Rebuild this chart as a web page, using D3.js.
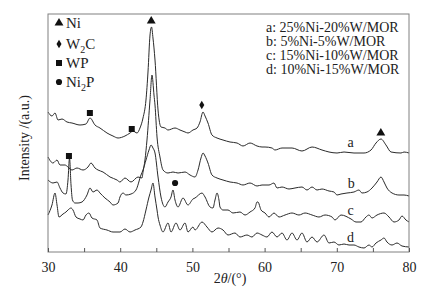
<!DOCTYPE html>
<html><head><meta charset="utf-8">
<script src="https://cdn.jsdelivr.net/npm/d3@7"></script>
<style>body{margin:0;background:#fff}svg{display:block}text{font-family:"Liberation Serif","Times New Roman",serif;fill:#222}</style>
</head><body>
<script>
// 2θ (degrees) and intensity (a.u.) for each sample
const thetaA=[30.0,30.55,30.97,31.39,31.94,32.63,33.32,34.43,35.26,35.82,36.51,37.20,38.17,39.0,39.70,40.66,41.36,41.77,42.33,42.74,43.16,43.57,43.85,44.13,44.34,44.54,44.82,45.24,45.65,46.20,46.62,47.59,48.28,48.98,49.39,50.08,50.64,51.05,51.47,51.75,52.16,52.71,53.41,54.24,55.21,56.18,57.01,57.98,58.95,59.64,60.06,61.02,61.44,62.41,63.80,65.18,66.57,67.95,68.92,70.03,71.0,72.38,73.77,74.74,75.43,76.12,76.81,77.51,78.89,79.31,80.0];
const intA=[140,136,139,132,133,130,129,127,128,134,127,124,119,116,114,116,119,121,119,124,134,152,180,217,225,214,192,142,125,124,122,124,122,120,119,122,124,130,140,136,129,117,114,112,110,109,106,109,106,105,105,104,102,104,104,101,105,102,100,99,100,99,99,102,109,113,107,100,99,100,99];
const thetaB=[30.0,30.69,31.25,31.66,32.35,32.77,33.32,34.02,34.85,35.54,35.96,36.51,36.93,37.62,38.59,39.56,39.97,40.66,41.50,42.47,43.02,43.16,43.43,43.71,44.13,44.40,44.68,44.82,45.10,45.51,45.93,46.62,47.31,48.01,48.98,49.67,50.36,50.78,51.19,51.47,51.75,52.16,52.71,53.41,54.24,55.21,56.18,57.01,57.98,58.95,59.64,60.61,61.30,61.72,62.41,63.38,64.21,65.18,65.87,66.57,67.26,67.95,68.92,69.61,70.03,70.58,71.41,72.38,73.07,73.49,74.18,74.88,75.57,76.12,76.54,76.95,77.65,78.61,79.31,80.0];
const intB=[95,89,92,87,87,85,82,84,82,85,89,84,82,80,75,72,70,74,70,75,74,80,92,112,152,177,157,147,115,95,82,79,80,79,80,77,75,82,94,99,96,89,77,74,72,70,69,67,69,66,67,67,69,64,65,63,64,65,62,65,62,63,61,60,57,58,59,60,62,59,60,64,70,75,70,64,59,57,57,56];
const thetaC=[30.0,30.69,31.25,31.66,32.08,32.49,32.77,32.98,33.19,33.39,33.74,34.16,34.71,35.40,35.82,36.23,36.79,37.20,37.89,38.59,39.0,39.70,39.97,40.39,40.80,41.50,42.19,42.88,43.16,43.57,43.99,44.27,44.54,44.82,45.24,45.65,46.20,46.62,47.04,47.31,47.59,48.01,48.70,49.39,50.08,50.36,51.33,51.75,52.44,52.85,53.13,53.41,53.68,53.82,54.24,54.93,55.62,56.59,57.29,57.98,58.67,58.95,59.09,59.36,59.50,60.06,60.61,61.30,62.0,62.83,63.80,64.76,65.60,66.57,67.53,68.37,69.34,69.75,70.58,71.97,72.66,73.35,74.04,74.46,74.88,75.57,76.54,77.23,77.92,78.61,79.03,79.58,80.0];
const intC=[72,69,70,64,59,58,72,94,67,52,49,49,50,57,64,60,62,59,54,50,47,49,55,59,57,58,62,77,82,92,102,107,104,99,75,55,45,50,55,62,52,45,54,47,53,54,59,55,45,44,52,59,52,45,42,42,39,40,37,40,44,50,50,45,42,39,35,39,35,37,39,37,39,37,35,37,35,32,37,33,30,30,35,37,34,37,39,35,30,32,36,32,30];
const thetaD=[30.0,30.55,30.97,31.25,31.52,32.08,32.49,32.77,33.19,33.46,33.88,34.43,34.85,35.26,35.68,36.09,36.79,37.20,38.17,39.0,39.97,40.66,41.36,42.05,42.88,43.16,43.57,43.99,44.27,44.54,44.82,45.10,45.24,45.51,45.93,46.62,47.04,47.73,48.28,48.98,49.39,50.08,50.36,51.33,52.02,52.71,53.55,54.24,54.93,55.90,56.59,57.56,58.25,58.95,59.64,60.33,61.02,61.72,62.41,63.10,63.80,64.49,65.18,65.87,66.57,67.26,68.23,68.92,69.61,70.30,71.0,71.69,72.38,73.07,73.77,74.46,74.88,75.43,76.12,76.54,76.95,77.65,78.34,79.03,80.0];
const intD=[37,47,59,47,35,38,40,42,44,42,35,33,32,37,39,34,32,24,22,20,20,23,20,22,25,30,42,55,62,69,55,42,35,27,20,29,20,29,22,29,20,25,22,30,25,20,24,22,17,19,15,17,15,19,17,15,20,15,19,12,19,12,19,10,15,10,17,9,10,7,8,7,7,5,4,7,5,9,12,14,10,7,9,6,5];

const curveLabels=["a","b","c","d"];
const labelTheta=[71.9,72.0,71.9,71.9];
const labelInt=[105,64,37,10];

const legendPhases=["Ni","W₂C","WP","Ni₂P"];
const legendShapes=["triangle","diamond","square","circle"];
const sampleLegend=["a: 25%Ni-20%W/MOR","b: 5%Ni-5%W/MOR","c: 15%Ni-10%W/MOR","d: 10%Ni-15%W/MOR"];

// peak markers: phase index, 2θ, intensity
const markerPhase=[0,1,2,2,0,2,3];
const markerTheta=[44.3,51.3,35.8,41.6,76.1,32.9,47.6];
const markerInt=[231,147,139,123,119,96,69];

const xTicks=[30,40,50,60,70,80];
const xMinor=[35,45,55,65,75];

const W=432,H=291;
const m={l:48,r:23,t:14,b:39};
const svg=d3.select("body").append("svg").attr("width",W).attr("height",H);
const x=d3.scaleLinear().domain([30,80]).range([m.l,W-m.r]);
const y=d3.scaleLinear().domain([0,238]).range([H-m.b,m.t]);

const series=[[thetaA,intA],[thetaB,intB],[thetaC,intC],[thetaD,intD]];
const line=d3.line().x(d=>x(d[0])).y(d=>y(d[1])).curve(d3.curveMonotoneX);
series.forEach(([t,v])=>{
  svg.append("path").datum(t.map((tt,i)=>[tt,v[i]]))
    .attr("d",line).attr("fill","none").attr("stroke","#2a2a2a").attr("stroke-width",1);
});

// frame
svg.append("rect").attr("x",m.l).attr("y",m.t).attr("width",W-m.r-m.l).attr("height",H-m.b-m.t)
  .attr("fill","none").attr("stroke","#808080").attr("stroke-width",1);

// x axis ticks inside
const ax=svg.append("g").attr("transform",`translate(0,${H-m.b})`)
  .call(d3.axisBottom(x).tickValues(xTicks).tickSizeInner(-4).tickSizeOuter(0).tickPadding(10));
ax.select(".domain").remove();
ax.selectAll("line").attr("stroke","#555");
ax.selectAll("text").attr("font-size",14).attr("font-family","Liberation Serif").attr("fill","#222");
const ax2=svg.append("g").attr("transform",`translate(0,${H-m.b})`)
  .call(d3.axisBottom(x).tickValues(xMinor).tickSizeInner(-4).tickSizeOuter(0).tickFormat(""));
ax2.select(".domain").remove();
ax2.selectAll("line").attr("stroke","#555");

// axis titles
const xt=svg.append("text").attr("x",230).attr("y",283).attr("text-anchor","middle").attr("font-size",14);
xt.append("tspan").text("2");
xt.append("tspan").attr("font-style","italic").text("θ");
xt.append("tspan").text("/(°)");
svg.append("text").attr("transform","translate(29,138) rotate(-90)").attr("text-anchor","middle")
  .attr("font-size",14).text("Intensity /(a.u.)");

// symbols
const symType={triangle:d3.symbolTriangle,diamond:d3.symbolDiamond,square:d3.symbolSquare,circle:d3.symbolCircle};
const symSize={triangle:34,diamond:22,square:36,circle:30};
function drawSym(shape,cx,cy){
  svg.append("path").attr("d",d3.symbol().type(symType[shape]).size(symSize[shape])())
    .attr("transform",`translate(${cx},${cy})`).attr("fill","#111");
}
markerPhase.forEach((p,i)=>drawSym(legendShapes[p],x(markerTheta[i]),y(markerInt[i])));

// phase legend
const legY=[23,44,63,82];
legendPhases.forEach((name,i)=>{
  drawSym(legendShapes[i],59,legY[i]);
  const t=svg.append("text").attr("x",66).attr("y",legY[i]+5).attr("font-size",15);
  if(name.includes("₂")){
    const parts=name.split("₂");
    t.append("tspan").text(parts[0]);
    t.append("tspan").attr("font-size",10).attr("dy",4).text("2");
    t.append("tspan").attr("dy",-4).text(parts[1]);
  } else t.text(name);
});

// sample legend
sampleLegend.forEach((s,i)=>{
  svg.append("text").attr("x",266).attr("y",32+i*14).attr("font-size",14).text(s);
});

// curve labels
curveLabels.forEach((c,i)=>{
  svg.append("text").attr("x",x(labelTheta[i])).attr("y",y(labelInt[i])).attr("text-anchor","middle")
    .attr("font-size",14).text(c);
});
</script>
</body></html>
